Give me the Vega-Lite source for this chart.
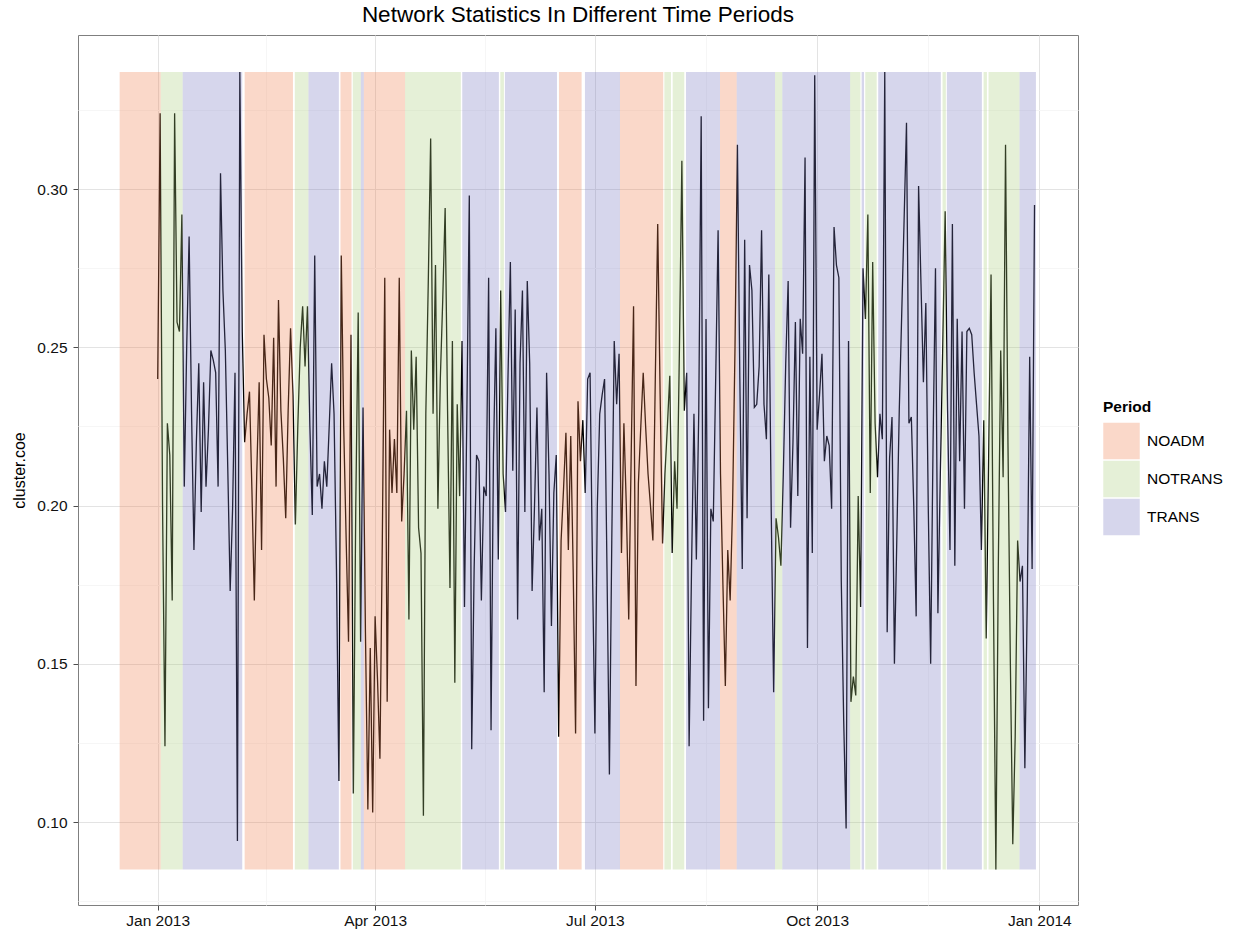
{
  "$schema": "https://vega.github.io/schema/vega-lite/v6.json",
  "width": 1000,
  "height": 870,
  "autosize": {"type": "none"},
  "padding": {"left": 78, "top": 35, "right": 155, "bottom": 29},
  "background": "white",
  "config": {
    "font": "Liberation Sans",
    "view": {"stroke": "#7f7f7f", "strokeWidth": 1},
    "axis": {"domain": false, "labelFontSize": 15.5, "labelColor": "#111111", "tickColor": "#4d4d4d", "tickSize": 5, "labelPadding": 5, "titleFontSize": 16, "titleFontWeight": "normal", "titleColor": "#000000"}
  },
  "title": {"text": "Network Statistics In Different Time Periods", "fontSize": 22.5, "fontWeight": "normal", "color": "#000000", "anchor": "middle", "offset": 9},
  "datasets": {
    "series": [
      {"date":"2013-01-01","coe":0.240},{"date":"2013-01-02","coe":0.324},{"date":"2013-01-03","coe":0.200},{"date":"2013-01-04","coe":0.124},{"date":"2013-01-05","coe":0.226},{"date":"2013-01-06","coe":0.216},{"date":"2013-01-07","coe":0.170},{"date":"2013-01-08","coe":0.324},{"date":"2013-01-09","coe":0.258},{"date":"2013-01-10","coe":0.255},{"date":"2013-01-11","coe":0.292},{"date":"2013-01-12","coe":0.206},{"date":"2013-01-13","coe":0.250},{"date":"2013-01-14","coe":0.285},{"date":"2013-01-15","coe":0.230},{"date":"2013-01-16","coe":0.186},{"date":"2013-01-17","coe":0.220},{"date":"2013-01-18","coe":0.245},{"date":"2013-01-19","coe":0.198},{"date":"2013-01-20","coe":0.239},{"date":"2013-01-21","coe":0.206},{"date":"2013-01-22","coe":0.224},{"date":"2013-01-23","coe":0.249},{"date":"2013-01-24","coe":0.246},{"date":"2013-01-25","coe":0.242},{"date":"2013-01-26","coe":0.206},{"date":"2013-01-27","coe":0.305},{"date":"2013-01-28","coe":0.268},{"date":"2013-01-29","coe":0.249},{"date":"2013-01-30","coe":0.212},{"date":"2013-01-31","coe":0.173},
      {"date":"2013-02-01","coe":0.199},{"date":"2013-02-02","coe":0.242},{"date":"2013-02-03","coe":0.094},{"date":"2013-02-04","coe":0.337},{"date":"2013-02-05","coe":0.255},{"date":"2013-02-06","coe":0.220},{"date":"2013-02-07","coe":0.229},{"date":"2013-02-08","coe":0.236},{"date":"2013-02-09","coe":0.205},{"date":"2013-02-10","coe":0.170},{"date":"2013-02-11","coe":0.210},{"date":"2013-02-12","coe":0.239},{"date":"2013-02-13","coe":0.186},{"date":"2013-02-14","coe":0.254},{"date":"2013-02-15","coe":0.240},{"date":"2013-02-16","coe":0.234},{"date":"2013-02-17","coe":0.219},{"date":"2013-02-18","coe":0.253},{"date":"2013-02-19","coe":0.206},{"date":"2013-02-20","coe":0.265},{"date":"2013-02-21","coe":0.230},{"date":"2013-02-22","coe":0.215},{"date":"2013-02-23","coe":0.196},{"date":"2013-02-24","coe":0.230},{"date":"2013-02-25","coe":0.256},{"date":"2013-02-26","coe":0.235},{"date":"2013-02-27","coe":0.194},{"date":"2013-02-28","coe":0.225},
      {"date":"2013-03-01","coe":0.250},{"date":"2013-03-02","coe":0.263},{"date":"2013-03-03","coe":0.244},{"date":"2013-03-04","coe":0.263},{"date":"2013-03-05","coe":0.225},{"date":"2013-03-06","coe":0.197},{"date":"2013-03-07","coe":0.279},{"date":"2013-03-08","coe":0.206},{"date":"2013-03-09","coe":0.210},{"date":"2013-03-10","coe":0.199},{"date":"2013-03-11","coe":0.214},{"date":"2013-03-12","coe":0.206},{"date":"2013-03-13","coe":0.225},{"date":"2013-03-14","coe":0.245},{"date":"2013-03-15","coe":0.229},{"date":"2013-03-16","coe":0.180},{"date":"2013-03-17","coe":0.113},{"date":"2013-03-18","coe":0.279},{"date":"2013-03-19","coe":0.225},{"date":"2013-03-20","coe":0.190},{"date":"2013-03-21","coe":0.157},{"date":"2013-03-22","coe":0.254},{"date":"2013-03-23","coe":0.109},{"date":"2013-03-24","coe":0.200},{"date":"2013-03-25","coe":0.261},{"date":"2013-03-26","coe":0.157},{"date":"2013-03-27","coe":0.231},{"date":"2013-03-28","coe":0.160},{"date":"2013-03-29","coe":0.104},{"date":"2013-03-30","coe":0.155},{"date":"2013-03-31","coe":0.103},
      {"date":"2013-04-01","coe":0.165},{"date":"2013-04-02","coe":0.145},{"date":"2013-04-03","coe":0.120},{"date":"2013-04-04","coe":0.190},{"date":"2013-04-05","coe":0.272},{"date":"2013-04-06","coe":0.138},{"date":"2013-04-07","coe":0.224},{"date":"2013-04-08","coe":0.204},{"date":"2013-04-09","coe":0.221},{"date":"2013-04-10","coe":0.204},{"date":"2013-04-11","coe":0.272},{"date":"2013-04-12","coe":0.195},{"date":"2013-04-13","coe":0.210},{"date":"2013-04-14","coe":0.230},{"date":"2013-04-15","coe":0.164},{"date":"2013-04-16","coe":0.249},{"date":"2013-04-17","coe":0.224},{"date":"2013-04-18","coe":0.247},{"date":"2013-04-19","coe":0.193},{"date":"2013-04-20","coe":0.185},{"date":"2013-04-21","coe":0.102},{"date":"2013-04-22","coe":0.229},{"date":"2013-04-23","coe":0.270},{"date":"2013-04-24","coe":0.316},{"date":"2013-04-25","coe":0.229},{"date":"2013-04-26","coe":0.276},{"date":"2013-04-27","coe":0.199},{"date":"2013-04-28","coe":0.240},{"date":"2013-04-29","coe":0.265},{"date":"2013-04-30","coe":0.294},
      {"date":"2013-05-01","coe":0.230},{"date":"2013-05-02","coe":0.174},{"date":"2013-05-03","coe":0.252},{"date":"2013-05-04","coe":0.144},{"date":"2013-05-05","coe":0.232},{"date":"2013-05-06","coe":0.203},{"date":"2013-05-07","coe":0.252},{"date":"2013-05-08","coe":0.168},{"date":"2013-05-09","coe":0.230},{"date":"2013-05-10","coe":0.298},{"date":"2013-05-11","coe":0.123},{"date":"2013-05-12","coe":0.180},{"date":"2013-05-13","coe":0.216},{"date":"2013-05-14","coe":0.214},{"date":"2013-05-15","coe":0.170},{"date":"2013-05-16","coe":0.206},{"date":"2013-05-17","coe":0.203},{"date":"2013-05-18","coe":0.272},{"date":"2013-05-19","coe":0.129},{"date":"2013-05-20","coe":0.216},{"date":"2013-05-21","coe":0.256},{"date":"2013-05-22","coe":0.183},{"date":"2013-05-23","coe":0.268},{"date":"2013-05-24","coe":0.210},{"date":"2013-05-25","coe":0.198},{"date":"2013-05-26","coe":0.240},{"date":"2013-05-27","coe":0.277},{"date":"2013-05-28","coe":0.211},{"date":"2013-05-29","coe":0.262},{"date":"2013-05-30","coe":0.164},{"date":"2013-05-31","coe":0.245},
      {"date":"2013-06-01","coe":0.268},{"date":"2013-06-02","coe":0.198},{"date":"2013-06-03","coe":0.271},{"date":"2013-06-04","coe":0.245},{"date":"2013-06-05","coe":0.173},{"date":"2013-06-06","coe":0.200},{"date":"2013-06-07","coe":0.231},{"date":"2013-06-08","coe":0.189},{"date":"2013-06-09","coe":0.199},{"date":"2013-06-10","coe":0.141},{"date":"2013-06-11","coe":0.242},{"date":"2013-06-12","coe":0.210},{"date":"2013-06-13","coe":0.162},{"date":"2013-06-14","coe":0.204},{"date":"2013-06-15","coe":0.216},{"date":"2013-06-16","coe":0.127},{"date":"2013-06-17","coe":0.189},{"date":"2013-06-18","coe":0.205},{"date":"2013-06-19","coe":0.223},{"date":"2013-06-20","coe":0.186},{"date":"2013-06-21","coe":0.222},{"date":"2013-06-22","coe":0.180},{"date":"2013-06-23","coe":0.128},{"date":"2013-06-24","coe":0.233},{"date":"2013-06-25","coe":0.214},{"date":"2013-06-26","coe":0.227},{"date":"2013-06-27","coe":0.204},{"date":"2013-06-28","coe":0.240},{"date":"2013-06-29","coe":0.242},{"date":"2013-06-30","coe":0.180},
      {"date":"2013-07-01","coe":0.128},{"date":"2013-07-02","coe":0.200},{"date":"2013-07-03","coe":0.229},{"date":"2013-07-04","coe":0.235},{"date":"2013-07-05","coe":0.240},{"date":"2013-07-06","coe":0.180},{"date":"2013-07-07","coe":0.115},{"date":"2013-07-08","coe":0.190},{"date":"2013-07-09","coe":0.252},{"date":"2013-07-10","coe":0.232},{"date":"2013-07-11","coe":0.248},{"date":"2013-07-12","coe":0.185},{"date":"2013-07-13","coe":0.226},{"date":"2013-07-14","coe":0.200},{"date":"2013-07-15","coe":0.164},{"date":"2013-07-16","coe":0.215},{"date":"2013-07-17","coe":0.263},{"date":"2013-07-18","coe":0.143},{"date":"2013-07-19","coe":0.207},{"date":"2013-07-20","coe":0.225},{"date":"2013-07-21","coe":0.242},{"date":"2013-07-22","coe":0.225},{"date":"2013-07-23","coe":0.210},{"date":"2013-07-24","coe":0.200},{"date":"2013-07-25","coe":0.189},{"date":"2013-07-26","coe":0.240},{"date":"2013-07-27","coe":0.289},{"date":"2013-07-28","coe":0.235},{"date":"2013-07-29","coe":0.188},{"date":"2013-07-30","coe":0.210},{"date":"2013-07-31","coe":0.225},
      {"date":"2013-08-01","coe":0.241},{"date":"2013-08-02","coe":0.185},{"date":"2013-08-03","coe":0.214},{"date":"2013-08-04","coe":0.199},{"date":"2013-08-05","coe":0.250},{"date":"2013-08-06","coe":0.309},{"date":"2013-08-07","coe":0.230},{"date":"2013-08-08","coe":0.242},{"date":"2013-08-09","coe":0.124},{"date":"2013-08-10","coe":0.180},{"date":"2013-08-11","coe":0.229},{"date":"2013-08-12","coe":0.183},{"date":"2013-08-13","coe":0.230},{"date":"2013-08-14","coe":0.323},{"date":"2013-08-15","coe":0.132},{"date":"2013-08-16","coe":0.259},{"date":"2013-08-17","coe":0.136},{"date":"2013-08-18","coe":0.199},{"date":"2013-08-19","coe":0.195},{"date":"2013-08-20","coe":0.240},{"date":"2013-08-21","coe":0.287},{"date":"2013-08-22","coe":0.210},{"date":"2013-08-23","coe":0.175},{"date":"2013-08-24","coe":0.143},{"date":"2013-08-25","coe":0.186},{"date":"2013-08-26","coe":0.170},{"date":"2013-08-27","coe":0.200},{"date":"2013-08-28","coe":0.250},{"date":"2013-08-29","coe":0.314},{"date":"2013-08-30","coe":0.240},{"date":"2013-08-31","coe":0.180},
      {"date":"2013-09-01","coe":0.284},{"date":"2013-09-02","coe":0.196},{"date":"2013-09-03","coe":0.276},{"date":"2013-09-04","coe":0.268},{"date":"2013-09-05","coe":0.231},{"date":"2013-09-06","coe":0.232},{"date":"2013-09-07","coe":0.244},{"date":"2013-09-08","coe":0.287},{"date":"2013-09-09","coe":0.232},{"date":"2013-09-10","coe":0.221},{"date":"2013-09-11","coe":0.273},{"date":"2013-09-12","coe":0.198},{"date":"2013-09-13","coe":0.141},{"date":"2013-09-14","coe":0.196},{"date":"2013-09-15","coe":0.190},{"date":"2013-09-16","coe":0.181},{"date":"2013-09-17","coe":0.210},{"date":"2013-09-18","coe":0.245},{"date":"2013-09-19","coe":0.271},{"date":"2013-09-20","coe":0.193},{"date":"2013-09-21","coe":0.220},{"date":"2013-09-22","coe":0.258},{"date":"2013-09-23","coe":0.203},{"date":"2013-09-24","coe":0.259},{"date":"2013-09-25","coe":0.248},{"date":"2013-09-26","coe":0.310},{"date":"2013-09-27","coe":0.155},{"date":"2013-09-28","coe":0.247},{"date":"2013-09-29","coe":0.185},{"date":"2013-09-30","coe":0.336},
      {"date":"2013-10-01","coe":0.224},{"date":"2013-10-02","coe":0.235},{"date":"2013-10-03","coe":0.248},{"date":"2013-10-04","coe":0.214},{"date":"2013-10-05","coe":0.222},{"date":"2013-10-06","coe":0.219},{"date":"2013-10-07","coe":0.199},{"date":"2013-10-08","coe":0.288},{"date":"2013-10-09","coe":0.276},{"date":"2013-10-10","coe":0.272},{"date":"2013-10-11","coe":0.176},{"date":"2013-10-12","coe":0.132},{"date":"2013-10-13","coe":0.098},{"date":"2013-10-14","coe":0.252},{"date":"2013-10-15","coe":0.138},{"date":"2013-10-16","coe":0.146},{"date":"2013-10-17","coe":0.140},{"date":"2013-10-18","coe":0.203},{"date":"2013-10-19","coe":0.168},{"date":"2013-10-20","coe":0.275},{"date":"2013-10-21","coe":0.259},{"date":"2013-10-22","coe":0.292},{"date":"2013-10-23","coe":0.204},{"date":"2013-10-24","coe":0.277},{"date":"2013-10-25","coe":0.226},{"date":"2013-10-26","coe":0.209},{"date":"2013-10-27","coe":0.229},{"date":"2013-10-28","coe":0.221},{"date":"2013-10-29","coe":0.337},{"date":"2013-10-30","coe":0.160},{"date":"2013-10-31","coe":0.215},
      {"date":"2013-11-01","coe":0.228},{"date":"2013-11-02","coe":0.150},{"date":"2013-11-03","coe":0.190},{"date":"2013-11-04","coe":0.230},{"date":"2013-11-05","coe":0.260},{"date":"2013-11-06","coe":0.290},{"date":"2013-11-07","coe":0.321},{"date":"2013-11-08","coe":0.226},{"date":"2013-11-09","coe":0.228},{"date":"2013-11-10","coe":0.200},{"date":"2013-11-11","coe":0.165},{"date":"2013-11-12","coe":0.301},{"date":"2013-11-13","coe":0.270},{"date":"2013-11-14","coe":0.239},{"date":"2013-11-15","coe":0.264},{"date":"2013-11-16","coe":0.200},{"date":"2013-11-17","coe":0.150},{"date":"2013-11-18","coe":0.220},{"date":"2013-11-19","coe":0.275},{"date":"2013-11-20","coe":0.166},{"date":"2013-11-21","coe":0.210},{"date":"2013-11-22","coe":0.250},{"date":"2013-11-23","coe":0.293},{"date":"2013-11-24","coe":0.230},{"date":"2013-11-25","coe":0.186},{"date":"2013-11-26","coe":0.289},{"date":"2013-11-27","coe":0.181},{"date":"2013-11-28","coe":0.259},{"date":"2013-11-29","coe":0.214},{"date":"2013-11-30","coe":0.255},
      {"date":"2013-12-01","coe":0.199},{"date":"2013-12-02","coe":0.255},{"date":"2013-12-03","coe":0.256},{"date":"2013-12-04","coe":0.254},{"date":"2013-12-05","coe":0.242},{"date":"2013-12-06","coe":0.232},{"date":"2013-12-07","coe":0.222},{"date":"2013-12-08","coe":0.186},{"date":"2013-12-09","coe":0.227},{"date":"2013-12-10","coe":0.158},{"date":"2013-12-11","coe":0.215},{"date":"2013-12-12","coe":0.273},{"date":"2013-12-13","coe":0.170},{"date":"2013-12-14","coe":0.085},{"date":"2013-12-15","coe":0.180},{"date":"2013-12-16","coe":0.249},{"date":"2013-12-17","coe":0.209},{"date":"2013-12-18","coe":0.314},{"date":"2013-12-19","coe":0.220},{"date":"2013-12-20","coe":0.150},{"date":"2013-12-21","coe":0.093},{"date":"2013-12-22","coe":0.127},{"date":"2013-12-23","coe":0.189},{"date":"2013-12-24","coe":0.176},{"date":"2013-12-25","coe":0.181},{"date":"2013-12-26","coe":0.117},{"date":"2013-12-27","coe":0.170},{"date":"2013-12-28","coe":0.247},{"date":"2013-12-29","coe":0.180},{"date":"2013-12-30","coe":0.295}
    ],
    "periods": [
      {"period":"NOADM","start":"2012-12-16T06:00:00Z","end":"2013-01-02T06:00:00Z"},
      {"period":"NOTRANS","start":"2013-01-02T06:00:00Z","end":"2013-01-11T08:00:00Z"},
      {"period":"TRANS","start":"2013-01-11T08:00:00Z","end":"2013-02-05T00:00:00Z"},
      {"period":"NOADM","start":"2013-02-06T00:00:00Z","end":"2013-02-26T00:00:00Z"},
      {"period":"NOTRANS","start":"2013-02-26T18:00:00Z","end":"2013-03-04T10:00:00Z"},
      {"period":"TRANS","start":"2013-03-04T10:00:00Z","end":"2013-03-17T00:00:00Z"},
      {"period":"NOADM","start":"2013-03-17T16:00:00Z","end":"2013-03-22T06:00:00Z"},
      {"period":"NOTRANS","start":"2013-03-22T18:00:00Z","end":"2013-03-26T02:00:00Z"},
      {"period":"TRANS","start":"2013-03-26T02:00:00Z","end":"2013-03-27T08:00:00Z"},
      {"period":"NOADM","start":"2013-03-27T08:00:00Z","end":"2013-04-13T10:00:00Z"},
      {"period":"NOTRANS","start":"2013-04-13T10:00:00Z","end":"2013-05-06T12:00:00Z"},
      {"period":"TRANS","start":"2013-05-07T02:00:00Z","end":"2013-05-22T06:00:00Z"},
      {"period":"NOTRANS","start":"2013-05-22T20:00:00Z","end":"2013-05-24T08:00:00Z"},
      {"period":"TRANS","start":"2013-05-24T18:00:00Z","end":"2013-06-15T07:00:00Z"},
      {"period":"NOADM","start":"2013-06-16T03:00:00Z","end":"2013-06-25T12:00:00Z"},
      {"period":"TRANS","start":"2013-06-26T21:00:00Z","end":"2013-07-11T09:00:00Z"},
      {"period":"NOADM","start":"2013-07-11T09:00:00Z","end":"2013-07-29T07:00:00Z"},
      {"period":"NOTRANS","start":"2013-07-29T18:00:00Z","end":"2013-08-01T12:00:00Z"},
      {"period":"NOTRANS","start":"2013-08-02T05:00:00Z","end":"2013-08-07T00:00:00Z"},
      {"period":"TRANS","start":"2013-08-07T17:00:00Z","end":"2013-08-21T19:00:00Z"},
      {"period":"NOADM","start":"2013-08-21T19:00:00Z","end":"2013-08-28T17:00:00Z"},
      {"period":"TRANS","start":"2013-08-28T17:00:00Z","end":"2013-09-13T14:00:00Z"},
      {"period":"NOTRANS","start":"2013-09-13T14:00:00Z","end":"2013-09-16T14:00:00Z"},
      {"period":"TRANS","start":"2013-09-16T14:00:00Z","end":"2013-10-14T16:00:00Z"},
      {"period":"NOTRANS","start":"2013-10-14T16:00:00Z","end":"2013-10-18T22:00:00Z"},
      {"period":"TRANS","start":"2013-10-19T10:00:00Z","end":"2013-10-20T10:00:00Z"},
      {"period":"NOTRANS","start":"2013-10-20T22:00:00Z","end":"2013-10-25T16:00:00Z"},
      {"period":"TRANS","start":"2013-10-26T07:00:00Z","end":"2013-11-21T05:00:00Z"},
      {"period":"NOTRANS","start":"2013-11-21T22:00:00Z","end":"2013-11-23T07:00:00Z"},
      {"period":"TRANS","start":"2013-11-23T17:00:00Z","end":"2013-12-08T05:00:00Z"},
      {"period":"NOTRANS","start":"2013-12-08T22:00:00Z","end":"2013-12-10T07:00:00Z"},
      {"period":"NOTRANS","start":"2013-12-10T23:00:00Z","end":"2013-12-23T19:00:00Z"},
      {"period":"TRANS","start":"2013-12-23T19:00:00Z","end":"2013-12-30T14:00:00Z"}
    ]
  },
  "layer": [
    {
      "data": {"name": "series"},
      "mark": {"type": "line", "color": "#000000", "strokeWidth": 1.3},
      "encoding": {
        "x": {
          "field": "date", "type": "temporal",
          "scale": {"type": "utc", "domain": [{"year": 2012, "month": 11, "date": 29, "utc": true}, {"year": 2014, "month": 1, "date": 17, "utc": true}]},
          "axis": {
            "title": null,
            "values": [
              {"year": 2013, "month": 1, "date": 1, "utc": true},
              {"year": 2013, "month": 2, "date": 15, "utc": true},
              {"year": 2013, "month": 4, "date": 1, "utc": true},
              {"year": 2013, "month": 5, "date": 16, "hours": 12, "utc": true},
              {"year": 2013, "month": 7, "date": 1, "utc": true},
              {"year": 2013, "month": 8, "date": 16, "utc": true},
              {"year": 2013, "month": 10, "date": 1, "utc": true},
              {"year": 2013, "month": 11, "date": 16, "utc": true},
              {"year": 2014, "month": 1, "date": 1, "utc": true}
            ],
            "labelExpr": "utcdate(datum.value) == 1 ? utcFormat(datum.value, '%b %Y') : ''",
            "labelOverlap": false,
            "labelFlush": false,
            "labelPadding": 3,
            "gridColor": {"condition": {"test": "utcdate(datum.value) == 1", "value": "#e3e3e3"}, "value": "#f6f6f6"},
            "tickOpacity": {"condition": {"test": "utcdate(datum.value) == 1", "value": 1}, "value": 0}
          }
        },
        "y": {
          "field": "coe", "type": "quantitative",
          "scale": {"domain": [0.0738, 0.3487], "nice": false, "zero": false},
          "axis": {
            "title": "cluster.coe",
            "titlePadding": 9,
            "labelPadding": 6,
            "values": [0.075, 0.1, 0.125, 0.15, 0.175, 0.2, 0.225, 0.25, 0.275, 0.3, 0.325],
            "labelExpr": "abs(datum.value * 20 - round(datum.value * 20)) < 0.001 ? format(datum.value, '.2f') : ''",
            "gridColor": {"condition": {"test": "abs(datum.value * 20 - round(datum.value * 20)) < 0.001", "value": "#e3e3e3"}, "value": "#f6f6f6"},
            "tickOpacity": {"condition": {"test": "abs(datum.value * 20 - round(datum.value * 20)) < 0.001", "value": 1}, "value": 0}
          }
        }
      }
    },
    {
      "data": {"name": "periods"},
      "mark": {"type": "rect", "opacity": 0.3},
      "encoding": {
        "x": {"field": "start", "type": "temporal"},
        "x2": {"field": "end"},
        "y": {"datum": 0.085, "type": "quantitative"},
        "y2": {"datum": 0.337},
        "fill": {
          "field": "period", "type": "nominal",
          "scale": {"domain": ["NOADM", "NOTRANS", "TRANS"], "range": ["#EE7D4B", "#A8CD7A", "#7676C0"]},
          "legend": {
            "title": "Period",
            "orient": "none",
            "legendX": 1025,
            "legendY": 365,
            "symbolType": "square",
            "symbolSize": 1332,
            "symbolOpacity": 0.3,
            "symbolStrokeWidth": 0,
            "labelFontSize": 15.5,
            "labelColor": "#000000",
            "titleFontSize": 15.5,
            "titleFontWeight": "bold",
            "titleColor": "#000000",
            "rowPadding": 1,
            "labelOffset": 7,
            "titlePadding": 7,
            "padding": 0
          }
        }
      }
    }
  ]
}
